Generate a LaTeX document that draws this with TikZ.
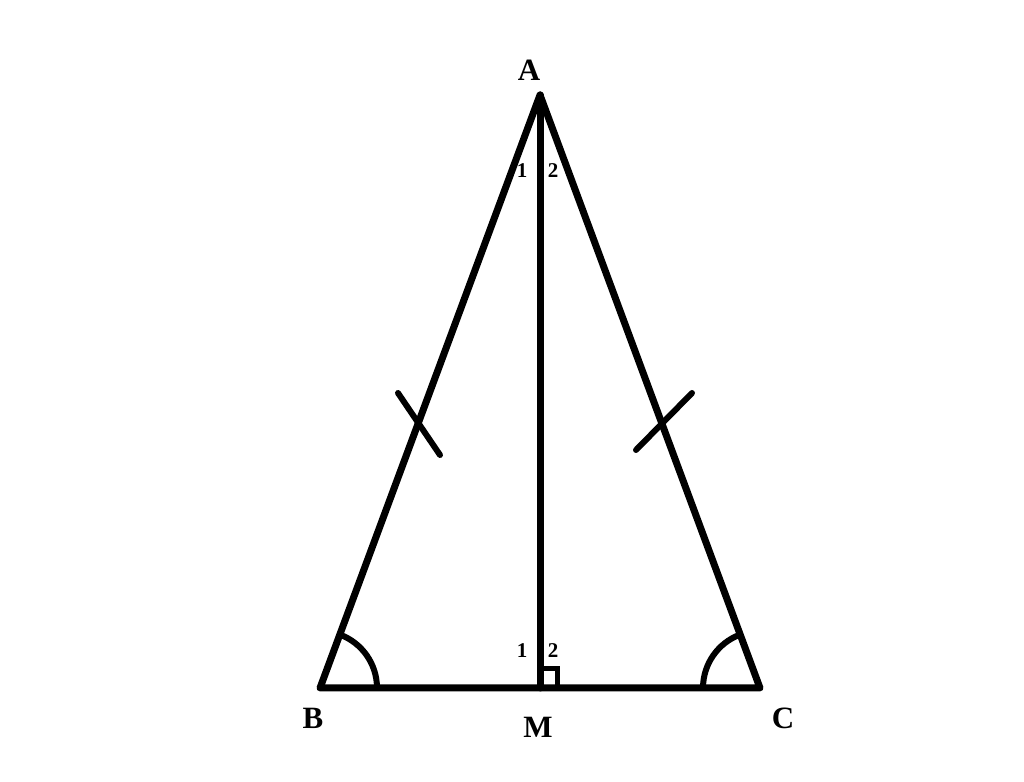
\documentclass[tikz,border=0pt]{standalone}
\usepackage{fontspec}
\setmainfont{Liberation Serif}
\tikzset{
  EdgeLine/.style = {line width=7pt, line cap=round, line join=round},
  MarkLine/.style = {line width=6pt, line cap=round},
  PointLabel/.style = {font=\bfseries\fontsize{31}{31}\selectfont, inner sep=0pt},
  AngleLabel/.style = {font=\bfseries\fontsize{21}{21}\selectfont, inner sep=0pt},
}
\begin{document}
\begin{tikzpicture}[x=1pt, y=1pt]
    \useasboundingbox (0,0) rectangle (1024,781);
    % vertices
    \coordinate (A) at (540,686);
    \coordinate (B) at (320,93);
    \coordinate (C) at (760,93);
    \coordinate (M) at (540,93);
    % triangle and median
    \draw [EdgeLine] (A) -- (B) -- (C) -- cycle;
    \draw [EdgeLine] (A) -- (M);
    % equal sides
    \coordinate (tl1) at (398,388);
    \coordinate (tl2) at (440,326);
    \coordinate (tr1) at (636,331);
    \coordinate (tr2) at (692,388);
    \draw [MarkLine] (tl1) -- (tl2);
    \draw [MarkLine] (tr1) -- (tr2);
    % equal angles
    \draw [MarkLine, line cap=butt] ([xshift=57pt]B) arc (0:69.6:57);
    \draw [MarkLine, line cap=butt] ([xshift=-57pt]C) arc (180:110.4:57);
    % right angle
    \draw [line width=5pt] ([xshift=1pt,yshift=19pt]M) -- ([xshift=17pt,yshift=19pt]M) -- ([xshift=17pt]M);
    % labels
    \node [PointLabel] (lA) at (529,711) {A};
    \node [PointLabel] (lB) at (313,63) {B};
    \node [PointLabel] (lC) at (783,63) {C};
    \node [PointLabel] (lM) at (538,54) {M};
    \node [AngleLabel] (a1) at (522,610) {1};
    \node [AngleLabel] (a2) at (553,610) {2};
    \node [AngleLabel] (m1) at (522,130) {1};
    \node [AngleLabel] (m2) at (553,130) {2};
\end{tikzpicture}
\end{document}
